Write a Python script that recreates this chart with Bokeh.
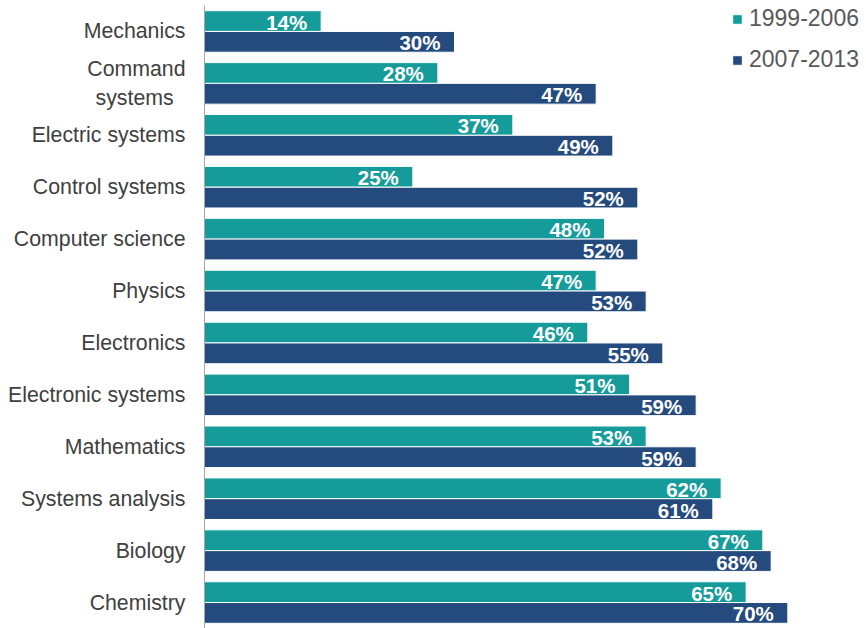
from bokeh.plotting import figure
from bokeh.models import ColumnDataSource, FactorRange, Range1d, Legend, LegendItem
from bokeh.transform import dodge
from bokeh.core.properties import value
from bokeh.embed import file_html
from bokeh.resources import INLINE

categories = ["Mechanics", "Command\nsystems\u00a0\u00a0", "Electric systems", "Control systems",
              "Computer science", "Physics", "Electronics", "Electronic systems",
              "Mathematics", "Systems analysis", "Biology", "Chemistry"]
series_1999_2006 = [14, 28, 37, 25, 48, 47, 46, 51, 53, 62, 67, 65]
series_2007_2013 = [30, 47, 49, 52, 52, 53, 55, 59, 59, 61, 68, 70]
series_names = ["1999-2006", "2007-2013"]

TEAL = "#169b9b"
NAVY = "#244a7e"
FONT = "Liberation Sans"

src = ColumnDataSource(dict(
    cat=categories,
    a=series_1999_2006,
    b=series_2007_2013,
    la=[f"{v}%" for v in series_1999_2006],
    lb=[f"{v}%" for v in series_2007_2013],
))

p = figure(width=866, height=628, output_backend="svg", toolbar_location=None,
           y_range=FactorRange(factors=list(reversed(categories))),
           x_range=Range1d(0, 78.6),
           min_border_left=204, min_border_right=7, min_border_top=5, min_border_bottom=0)

r1 = p.hbar(y=dodge("cat", 0.2, range=p.y_range), right="a", left=0, height=0.4,
            source=src, fill_color=TEAL, line_color="white", line_width=1)
r2 = p.hbar(y=dodge("cat", -0.2, range=p.y_range), right="b", left=0, height=0.4,
            source=src, fill_color=NAVY, line_color="white", line_width=1)

for col, lab, off in (("a", "la", 0.2), ("b", "lb", -0.2)):
    p.text(x=col, y=dodge("cat", off, range=p.y_range), text=lab, source=src,
           x_offset=-14, y_offset=1, text_align="right", text_baseline="middle",
           text_color="white", text_font=value(FONT), text_font_style="bold",
           text_font_size="20.5px")

legend = Legend(items=[LegendItem(label=series_names[0], renderers=[r1]),
                       LegendItem(label=series_names[1], renderers=[r2])],
                location="top_right", border_line_color=None, background_fill_alpha=0,
                label_text_font=FONT, label_text_font_size="23px", label_text_color="#595959",
                glyph_width=12, glyph_height=12, label_standoff=6, label_height=26,
                spacing=14, padding=0, margin=0)
p.add_layout(legend)

p.xaxis.visible = False
p.xgrid.visible = False
p.ygrid.visible = False
p.outline_line_color = None
p.yaxis.axis_line_color = "#a6a6a6"
p.yaxis.axis_line_width = 1
p.yaxis.major_tick_line_color = None
p.yaxis.minor_tick_line_color = None
p.yaxis.major_label_standoff = 13
p.yaxis.major_label_text_font = FONT
p.yaxis.major_label_text_font_size = "21.3px"
p.yaxis.major_label_text_color = "#404040"

open("out.html", "w").write(file_html(p, INLINE))
